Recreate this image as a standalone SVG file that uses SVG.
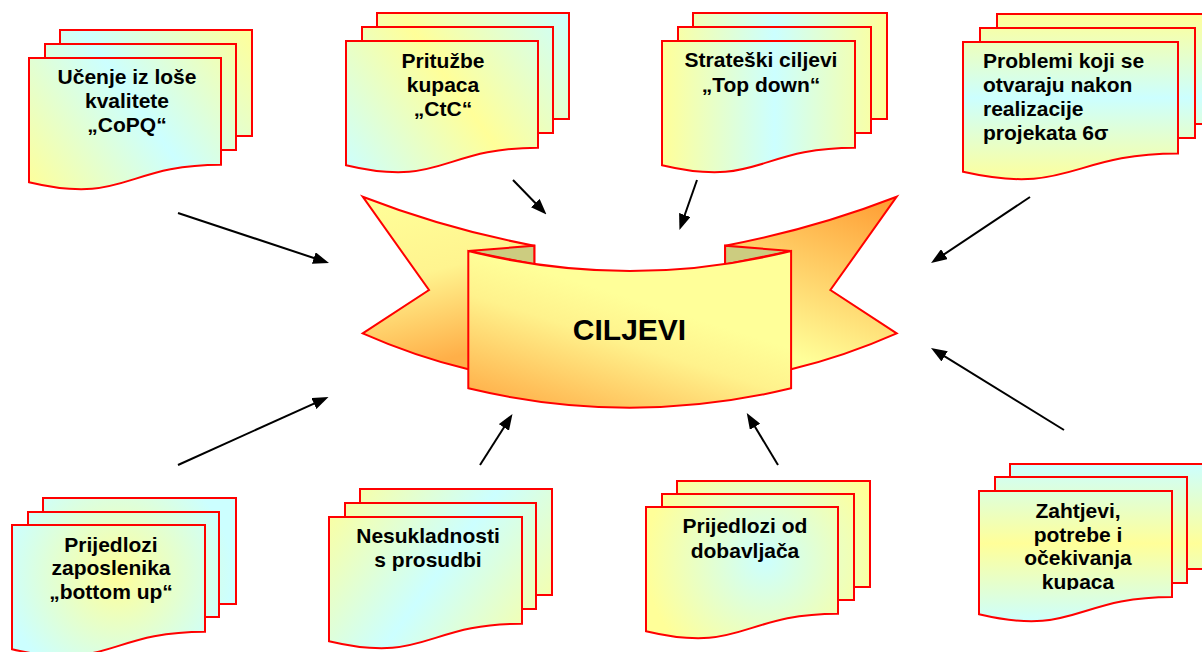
<svg xmlns="http://www.w3.org/2000/svg" width="1202" height="652" viewBox="0 0 1202 652">
<style>
.pg{stroke:#FF0000;stroke-width:2;stroke-linejoin:miter}
.bn{stroke:#FF0000;stroke-width:2;stroke-linejoin:miter}
.t{font-family:"Liberation Sans",Arial,sans-serif;font-weight:bold;font-size:21px;fill:#000;text-anchor:middle}
.tl{text-anchor:start}
.big{font-size:30px}
.ar{stroke:#000;stroke-width:2;fill:none;marker-end:url(#ah)}
</style>
<defs>
<marker id="ah" markerUnits="userSpaceOnUse" markerWidth="16" markerHeight="12" refX="8" refY="6" orient="auto"><path d="M0,0 L16,6 L0,12 Z" fill="#000"/></marker>
<linearGradient id="g1" gradientUnits="userSpaceOnUse" x1="29" y1="191" x2="252" y2="30"><stop offset="0" stop-color="#FFFF99"/><stop offset="0.5" stop-color="#CCFFFF"/><stop offset="1" stop-color="#FFFF99"/></linearGradient>
<linearGradient id="g2" gradientUnits="userSpaceOnUse" x1="346" y1="173" x2="569" y2="13"><stop offset="0" stop-color="#CCFFFF"/><stop offset="0.5" stop-color="#FFFF99"/><stop offset="1" stop-color="#CCFFFF"/></linearGradient>
<linearGradient id="g3" gradientUnits="userSpaceOnUse" x1="662" y1="0" x2="887" y2="0"><stop offset="0" stop-color="#FFFF99"/><stop offset="0.5" stop-color="#CCFFFF"/><stop offset="1" stop-color="#FFFF99"/></linearGradient>
<linearGradient id="g4" gradientUnits="userSpaceOnUse" x1="0" y1="14" x2="0" y2="182"><stop offset="0" stop-color="#FFFF99"/><stop offset="0.5" stop-color="#CCFFFF"/><stop offset="1" stop-color="#FFFF99"/></linearGradient>
<radialGradient id="g5" gradientUnits="userSpaceOnUse" cx="118" cy="575" r="115"><stop offset="0" stop-color="#FFFF99"/><stop offset="1" stop-color="#CCFFFF"/></radialGradient>
<linearGradient id="g6" gradientUnits="userSpaceOnUse" x1="329" y1="489" x2="552" y2="650"><stop offset="0" stop-color="#FFFF99"/><stop offset="0.5" stop-color="#CCFFFF"/><stop offset="1" stop-color="#FFFF99"/></linearGradient>
<radialGradient id="g7" gradientUnits="userSpaceOnUse" cx="765" cy="560" r="120"><stop offset="0" stop-color="#CCFFFF"/><stop offset="1" stop-color="#FFFF99"/></radialGradient>
<linearGradient id="g8" gradientUnits="userSpaceOnUse" x1="0" y1="464" x2="0" y2="623"><stop offset="0" stop-color="#CCFFFF"/><stop offset="0.5" stop-color="#FFFF99"/><stop offset="1" stop-color="#CCFFFF"/></linearGradient>
<linearGradient id="gl" x1="0" y1="0" x2="0.25" y2="1"><stop offset="0" stop-color="#FFFF99"/><stop offset="0.5" stop-color="#FFF48F"/><stop offset="1" stop-color="#FFAF48"/></linearGradient>
<linearGradient id="gr" x1="1" y1="0" x2="0.6" y2="1"><stop offset="0" stop-color="#FF9A30"/><stop offset="1" stop-color="#FFFF99"/></linearGradient>
<linearGradient id="gp" x1="0.05" y1="1" x2="0.5" y2="0.3"><stop offset="0" stop-color="#FFAA44"/><stop offset="0.7" stop-color="#FFF28C"/><stop offset="1" stop-color="#FFFF99"/></linearGradient>
<clipPath id="c8"><rect x="960" y="440" width="242" height="150"/></clipPath>
</defs>

<g id="connectors">
<line class="ar" x1="178" y1="213" x2="321.4" y2="260.5"/>
<line class="ar" x1="513" y1="180" x2="540.9" y2="208.8"/>
<line class="ar" x1="697" y1="180" x2="682.1" y2="222.5"/>
<line class="ar" x1="1030" y1="197" x2="937.7" y2="258.6"/>
<line class="ar" x1="178" y1="465" x2="321.2" y2="400.3"/>
<line class="ar" x1="480" y1="465" x2="508.2" y2="420.7"/>
<line class="ar" x1="778" y1="465" x2="750.9" y2="419.9"/>
<line class="ar" x1="1064" y1="430" x2="937.8" y2="352.2"/>
</g>

<g id="ciljevi">
<path class="bn" fill="url(#gl)" d="M362.7,196.7 Q446,229 534.3,245.7 L534.3,300 L468.3,369.3 Q414,356 362.7,333.3 L429,290 Z"/>
<path class="bn" fill="url(#gr)" d="M896.7,196.7 Q813.4,229 725.1,245.7 L725.1,300 L791.1,369.3 Q845.4,356 896.7,333.3 L830.4,290 Z"/>
<path class="bn" fill="#CCCC80" d="M468.3,251 L534.3,245.7 L534.3,264.5 Z"/>
<path class="bn" fill="#CCCC80" d="M791.1,251 L725.1,245.7 L725.1,264.5 Z"/>
<path class="bn" fill="url(#gp)" d="M468.3,251 Q629.7,291 791.1,251 L791.1,388.3 Q629.7,427 468.3,388.3 Z"/>
<text class="t big" x="629.5" y="340">CILJEVI</text>
</g>

<g id="n1">
<rect class="pg" fill="url(#g1)" x="60" y="30" width="192" height="106"/>
<rect class="pg" fill="url(#g1)" x="45" y="44" width="191" height="106"/>
<path class="pg" fill="url(#g1)" d="M29,58 H221 V164.7 C125,164.7 125,205.2 29,182.2 Z"/>
<text class="t" x="127" y="84">Učenje iz loše</text>
<text class="t" x="127" y="108">kvalitete</text>
<text class="t" x="127" y="132">„CoPQ“</text>
</g>

<g id="n2">
<rect class="pg" fill="url(#g2)" x="377" y="13" width="192" height="106"/>
<rect class="pg" fill="url(#g2)" x="362" y="27" width="191" height="106"/>
<path class="pg" fill="url(#g2)" d="M346,41 H538 V147.7 C442,147.7 442,188.2 346,165.2 Z"/>
<text class="t" x="443" y="68">Pritužbe</text>
<text class="t" x="443" y="92">kupaca</text>
<text class="t" x="443" y="116">„CtC“</text>
</g>

<g id="n3">
<rect class="pg" fill="url(#g3)" x="693" y="13" width="194" height="106"/>
<rect class="pg" fill="url(#g3)" x="678" y="27" width="193" height="106"/>
<path class="pg" fill="url(#g3)" d="M662,41 H855 V147.7 C758.5,147.7 758.5,188.2 662,165.2 Z"/>
<text class="t" x="761" y="67">Strateški ciljevi</text>
<text class="t" x="761" y="92">„Top down“</text>
</g>

<g id="n4">
<rect class="pg" fill="url(#g4)" x="997" y="14" width="215" height="110"/>
<rect class="pg" fill="url(#g4)" x="980" y="28" width="215" height="110"/>
<path class="pg" fill="url(#g4)" d="M963,42 H1178 V153.5 C1070.5,153.5 1070.5,195.9 963,171.8 Z"/>
<text class="t tl" x="983" y="68">Problemi koji se</text>
<text class="t tl" x="983" y="92">otvaraju nakon</text>
<text class="t tl" x="983" y="116">realizacije</text>
<text class="t tl" x="983" y="140">projekata 6σ</text>
</g>

<g id="n5">
<rect class="pg" fill="url(#g5)" x="43" y="498" width="193" height="106"/>
<rect class="pg" fill="url(#g5)" x="28" y="512" width="191" height="105"/>
<path class="pg" fill="url(#g5)" d="M12,525 H205 V631.7 C108.5,631.7 108.5,672.2 12,649.2 Z"/>
<text class="t" x="111" y="552">Prijedlozi</text>
<text class="t" x="111" y="575">zaposlenika</text>
<text class="t" x="111" y="599">„bottom up“</text>
</g>

<g id="n6">
<rect class="pg" fill="url(#g6)" x="360" y="489" width="192" height="106"/>
<rect class="pg" fill="url(#g6)" x="345" y="503" width="191" height="106"/>
<path class="pg" fill="url(#g6)" d="M329,517 H522 V623.7 C425.5,623.7 425.5,664.2 329,641.2 Z"/>
<text class="t" x="428" y="543">Nesukladnosti</text>
<text class="t" x="428" y="567">s prosudbi</text>
</g>

<g id="n7">
<rect class="pg" fill="url(#g7)" x="677" y="481" width="193" height="106"/>
<rect class="pg" fill="url(#g7)" x="662" y="494" width="192" height="106"/>
<path class="pg" fill="url(#g7)" d="M646,507 H838 V613.7 C742,613.7 742,654.2 646,631.2 Z"/>
<text class="t" x="745" y="533">Prijedlozi od</text>
<text class="t" x="745" y="558">dobavljača</text>
</g>

<g id="n8">
<rect class="pg" fill="url(#g8)" x="1010" y="464" width="200" height="105"/>
<rect class="pg" fill="url(#g8)" x="995" y="477" width="192" height="106"/>
<path class="pg" fill="url(#g8)" d="M979,491 H1172 V596.9 C1075.5,596.9 1075.5,637.1 979,614.3 Z"/>
<g clip-path="url(#c8)">
<text class="t" x="1078" y="518">Zahtjevi,</text>
<text class="t" x="1078" y="542">potrebe i</text>
<text class="t" x="1078" y="565">očekivanja</text>
<text class="t" x="1078" y="589">kupaca</text>
</g>
</g>
</svg>
